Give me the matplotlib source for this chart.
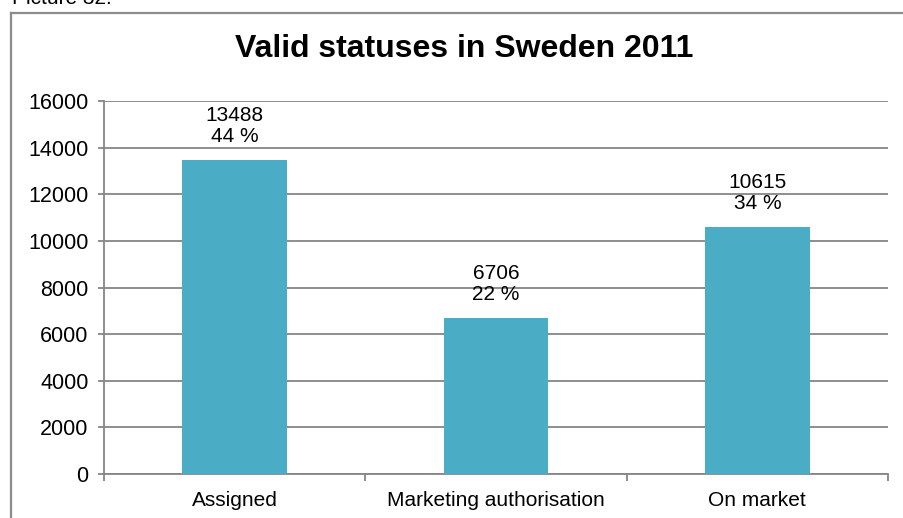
import matplotlib
matplotlib.use("Agg")
import matplotlib.pyplot as plt
from matplotlib.lines import Line2D

plt.rcParams['font.family'] = ['Liberation Sans', 'DejaVu Sans']

categories = ["Assigned", "Marketing authorisation", "On market"]
values = [13488, 6706, 10615]
percents = ["44 %", "22 %", "34 %"]
yticks = [0, 2000, 4000, 6000, 8000, 10000, 12000, 14000, 16000]

W, H = 904, 518
fig = plt.figure(figsize=(W / 100, H / 100), dpi=100)
fig.patch.set_facecolor("white")

# outer chart border (left and top visible)
border_col = "#8c8c8c"
fig.add_artist(Line2D([11 / W, 11 / W], [0, 1 - 12.5 / H], transform=fig.transFigure,
                      color=border_col, lw=1.6))
fig.add_artist(Line2D([11 / W, 1.0], [1 - 12.5 / H, 1 - 12.5 / H], transform=fig.transFigure,
                      color=border_col, lw=1.6))
fig.text(12 / W, 1 - 4 / H, "Picture 32.", fontsize=15, va="baseline", ha="left")

ax = fig.add_axes([104 / W, 1 - 474 / H, (888 - 104) / W, (474 - 101) / H])
x = list(range(len(categories)))
ax.bar(x, values, width=0.4, color="#4BACC6", zorder=3)
ax.set_xlim(-0.5, 2.5)
ax.set_ylim(0, 16000)
ax.set_yticks(yticks)
ax.set_yticklabels([str(t) for t in yticks])
ax.set_xticks(x)
ax.set_xticklabels(categories)
ax.set_xticks([-0.5, 0.5, 1.5, 2.5], minor=True)
grid_col = "#868686"
ax.yaxis.grid(True, color=grid_col, lw=1.3, zorder=0)
ax.tick_params(axis="y", length=4, color=grid_col, width=1.3, labelsize=15.5, pad=7)
ax.tick_params(axis="x", which="major", length=0, labelsize=15, pad=12)
ax.tick_params(axis="x", which="minor", length=5, color=grid_col, width=1.3)
for s in ["top", "right"]:
    ax.spines[s].set_visible(False)
for s in ["left", "bottom"]:
    ax.spines[s].set_color(grid_col)
    ax.spines[s].set_linewidth(1.3)

for xi, v, p in zip(x, values, percents):
    ax.annotate(f"{v}\n{p}", xy=(xi, v), xytext=(0, 10), textcoords="offset points",
                ha="center", va="bottom", fontsize=15, linespacing=1.1)

fig.text(464 / W, 1 - 49 / H, "Valid statuses in Sweden 2011",
         fontsize=23, fontweight="bold", ha="center", va="center")

fig.savefig("out.png", dpi=100)
